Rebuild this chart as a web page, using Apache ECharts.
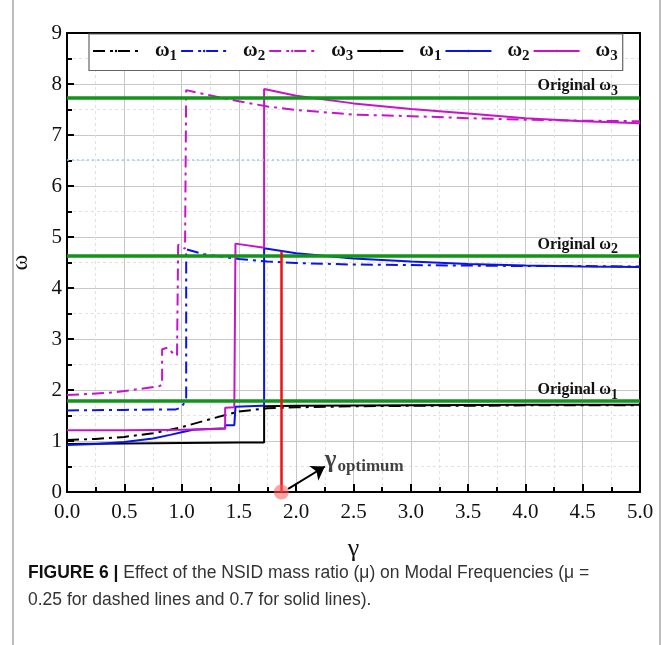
<!DOCTYPE html>
<html>
<head>
<meta charset="utf-8">
<script src="https://cdn.jsdelivr.net/npm/echarts@6/dist/echarts.min.js"></script>
<style>
  html, body { margin: 0; padding: 0; background: #fff; }
  #chart { width: 666px; height: 645px; }
</style>
</head>
<body>
<div id="chart"></div>
<script>
// dashed lines: mu = 0.25, solid lines: mu = 0.7
const dashW1x = [0, 0.25, 0.5, 0.75, 1.0, 1.25, 1.5, 1.75, 2.0, 2.5, 3.0, 3.5, 4.0, 4.5, 5.0];
const dashW1y = [1.02, 1.04, 1.08, 1.15, 1.27, 1.43, 1.58, 1.64, 1.66, 1.68, 1.69, 1.69, 1.70, 1.70, 1.70];

const dashW2x = [0, 0.5, 0.95, 1.0, 1.03, 1.04, 1.04, 1.2, 1.5, 1.75, 2.0, 2.5, 3.0, 3.5, 4.0, 4.5, 5.0];
const dashW2y = [1.60, 1.61, 1.62, 1.66, 1.78, 1.84, 4.76, 4.66, 4.57, 4.52, 4.49, 4.46, 4.45, 4.44, 4.43, 4.43, 4.42];

const dashW3x = [0, 0.4, 0.8, 0.83, 0.83, 0.88, 0.94, 0.96, 0.97, 1.03, 1.04, 1.2, 1.5, 1.75, 2.0, 2.5, 3.0, 3.5, 4.0, 4.5, 5.0];
const dashW3y = [1.90, 1.95, 2.07, 2.10, 2.80, 2.83, 2.68, 2.68, 4.85, 4.77, 7.88, 7.80, 7.66, 7.56, 7.49, 7.40, 7.37, 7.33, 7.30, 7.28, 7.27];

const solidW1x = [0, 0.5, 1.0, 1.5, 1.72, 1.72, 2.0, 3.0, 4.0, 5.0];
const solidW1y = [0.94, 0.95, 0.96, 0.97, 0.97, 1.68, 1.69, 1.70, 1.71, 1.71];

const solidW2x = [0, 0.25, 0.5, 0.75, 0.9, 1.0, 1.1, 1.38, 1.38, 1.46, 1.47, 1.7, 1.72, 1.72, 2.0, 2.5, 3.0, 3.5, 4.0, 4.5, 5.0];
const solidW2y = [0.92, 0.94, 0.98, 1.05, 1.12, 1.17, 1.22, 1.25, 1.31, 1.31, 1.67, 1.69, 1.69, 4.78, 4.68, 4.58, 4.52, 4.47, 4.44, 4.42, 4.41];

const solidW3x = [0, 0.5, 1.0, 1.38, 1.38, 1.46, 1.47, 1.72, 1.72, 2.0, 2.5, 3.0, 3.5, 4.0, 4.5, 5.0];
const solidW3y = [1.21, 1.21, 1.22, 1.24, 1.65, 1.66, 4.87, 4.79, 7.90, 7.77, 7.62, 7.51, 7.42, 7.33, 7.27, 7.23];

const originalW = [1.78, 4.64, 7.74];
const dottedRef = 6.52;
const gammaOpt = 1.87;
const gammaOptTop = 4.72;

const chart = echarts.init(document.getElementById("chart"));

const serif = "Liberation Serif";
const dashDot = [12, 5, 3, 5];
const colors = { w1: "#000000", w2: "#0a14e6", w3: "#c814c8" };

// legend icons drawn as paths so the dash-dot shows without a symbol
const iconDash = "path://M0,0h16v3H0z M21,0h4v3h-4z M30,0h16v3h-16z";
const iconSolid = "path://M0,0h46v3H0z";

const zip = (xs, ys) => xs.map((x, i) => [x, ys[i]]);

const mkLine = (name, xs, ys, color, dashed) => ({
  name,
  type: "line",
  data: zip(xs, ys),
  showSymbol: false,
  symbol: "none",
  legendIcon: dashed ? iconDash : iconSolid,
  animation: false,
  lineStyle: { color, width: 2, type: dashed ? dashDot : "solid" },
  itemStyle: { color },
  z: 3,
});

const origLabel = (n) => ({
  show: true,
  position: "insideEndTop",
  distance: [22, -1],
  formatter: "{a|Original ω}{s|" + n + "}",
  rich: {
    a: { fontFamily: serif, fontWeight: "bold", fontSize: 16, color: "#111" },
    s: { fontFamily: serif, fontWeight: "bold", fontSize: 14, color: "#111", padding: [10, 0, 0, 0] },
  },
});

const greenStyle = { color: "#12931a", width: 3.5, type: "solid" };

const options = {
  backgroundColor: "#fff",
  animation: false,
  grid: { left: 67, top: 33, width: 573, height: 459 },
  legend: {
    data: ["d1", "d2", "d3", "s1", "s2", "s3"],
    left: 89,
    top: 34,
    orient: "horizontal",
    itemWidth: 46,
    itemHeight: 3,
    itemGap: 3,
    padding: [7, 5, 7, 3],
    borderColor: "#666",
    borderWidth: 1.2,
    backgroundColor: "#fff",
    selectedMode: false,
    formatter: (name) => "{w|ω}{n|" + name.slice(1) + "}",
    textStyle: {
      rich: {
        w: { fontFamily: serif, fontWeight: "bold", fontSize: 20, color: "#111", padding: [0, 0, 0, 11] },
        n: { fontFamily: serif, fontWeight: "bold", fontSize: 15, color: "#111", padding: [10, 0, 0, 0] },
      },
    },
  },
  xAxis: [
    {
      type: "value",
      min: 0,
      max: 5,
      interval: 0.5,
      name: "γ",
      nameLocation: "middle",
      nameGap: 44,
      nameTextStyle: { fontFamily: serif, fontSize: 26, color: "#111" },
      axisLine: { lineStyle: { color: "#000", width: 2 } },
      axisTick: { inside: true, length: 8, lineStyle: { color: "#000", width: 2 } },
      minorTick: { show: true, splitNumber: 2, length: 5, lineStyle: { color: "#000", width: 2 } },
      axisLabel: { formatter: (v) => v.toFixed(1), fontFamily: serif, fontSize: 21, color: "#111", margin: 10 },
      splitLine: { show: true, lineStyle: { color: "#c8c8c8", width: 1 } },
      minorSplitLine: { show: true, lineStyle: { color: "#e2e2e2", width: 1, type: [3, 3] } },
    },
    {
      type: "value",
      min: 0,
      max: 5,
      position: "top",
      axisLine: { show: true, onZero: false, lineStyle: { color: "#000", width: 2 } },
      axisTick: { show: false },
      axisLabel: { show: false },
      splitLine: { show: false },
    },
  ],
  yAxis: [
    {
      type: "value",
      min: 0,
      max: 9,
      interval: 1,
      name: "ω",
      nameLocation: "middle",
      nameGap: 34,
      nameTextStyle: { fontFamily: serif, fontSize: 24, color: "#111" },
      axisLine: { show: true, lineStyle: { color: "#000", width: 2 } },
      axisTick: { show: true, inside: true, length: 7, lineStyle: { color: "#000", width: 2 } },
      minorTick: { show: true, splitNumber: 2, length: 5, lineStyle: { color: "#000", width: 2 } },
      axisLabel: { fontFamily: serif, fontSize: 21, color: "#111", margin: 5 },
      splitLine: { show: true, lineStyle: { color: "#c8c8c8", width: 1 } },
      minorSplitLine: { show: true, lineStyle: { color: "#e2e2e2", width: 1, type: [3, 3] } },
    },
    {
      type: "value",
      min: 0,
      max: 9,
      position: "right",
      axisLine: { show: true, onZero: false, lineStyle: { color: "#000", width: 2 } },
      axisTick: { show: false },
      axisLabel: { show: false },
      splitLine: { show: false },
    },
  ],
  series: [
    mkLine("d1", dashW1x, dashW1y, colors.w1, true),
    mkLine("d2", dashW2x, dashW2y, colors.w2, true),
    mkLine("d3", dashW3x, dashW3y, colors.w3, true),
    mkLine("s1", solidW1x, solidW1y, colors.w1, false),
    mkLine("s2", solidW2x, solidW2y, colors.w2, false),
    mkLine("s3", solidW3x, solidW3y, colors.w3, false),
    {
      name: "ref",
      type: "scatter",
      data: [[gammaOpt, 0]],
      symbolSize: 15,
      clip: false,
      z: 6,
      itemStyle: { color: "rgba(255, 90, 90, 0.7)" },
      markLine: {
        silent: true,
        animation: false,
        symbol: "none",
        z: 5,
        data: [
          { yAxis: dottedRef, lineStyle: { color: "#9cc6ea", width: 1.5, type: [2, 3] }, label: { show: false } },
          { yAxis: originalW[0], lineStyle: greenStyle, label: origLabel(1) },
          { yAxis: originalW[1], lineStyle: greenStyle, label: origLabel(2) },
          { yAxis: originalW[2], lineStyle: greenStyle, label: origLabel(3) },
          [
            { coord: [gammaOpt, 0], lineStyle: { color: "#f01010", width: 2.5, type: "solid" }, label: { show: false } },
            { coord: [gammaOpt, gammaOptTop] },
          ],
          [
            { coord: [1.93, 0.06], symbol: "none", lineStyle: { color: "#000", width: 2, type: "solid" }, label: { show: false } },
            { coord: [2.25, 0.5], symbol: "arrow", symbolSize: 13 },
          ],
        ],
      },
    },
    {
      name: "gammaLabel",
      type: "scatter",
      data: [[2.25, 0.62]],
      symbolSize: 0,
      z: 6,
      label: {
        show: true,
        position: "right",
        distance: 0,
        formatter: "{g|γ}{o|optimum}",
        rich: {
          g: { fontFamily: serif, fontWeight: "bold", fontSize: 25, color: "#111" },
          o: { fontFamily: serif, fontWeight: "bold", fontSize: 17, color: "#111", padding: [12, 0, 0, 1] },
        },
      },
    },
  ],
  graphic: [
    { type: "line", shape: { x1: 13, y1: 0, x2: 13, y2: 645 }, style: { stroke: "#bdbdbd", lineWidth: 2 } },
    { type: "line", shape: { x1: 660, y1: 0, x2: 660, y2: 645 }, style: { stroke: "#bdbdbd", lineWidth: 2 } },
    {
      type: "text",
      left: 28,
      top: 564,
      style: {
        text: "{b|FIGURE 6 | }Effect of the NSID mass ratio (μ) on Modal Frequencies (μ =",
        rich: {
          b: { fontFamily: "Liberation Sans", fontWeight: "bold", fontSize: 17.5, fill: "#111" },
        },
        font: "17.5px 'Liberation Sans'",
        fill: "#333",
      },
    },
    {
      type: "text",
      left: 28,
      top: 591,
      style: {
        text: "0.25 for dashed lines and 0.7 for solid lines).",
        font: "17.5px 'Liberation Sans'",
        fill: "#333",
      },
    },
  ],
};

chart.setOption(options);
</script>
</body>
</html>
